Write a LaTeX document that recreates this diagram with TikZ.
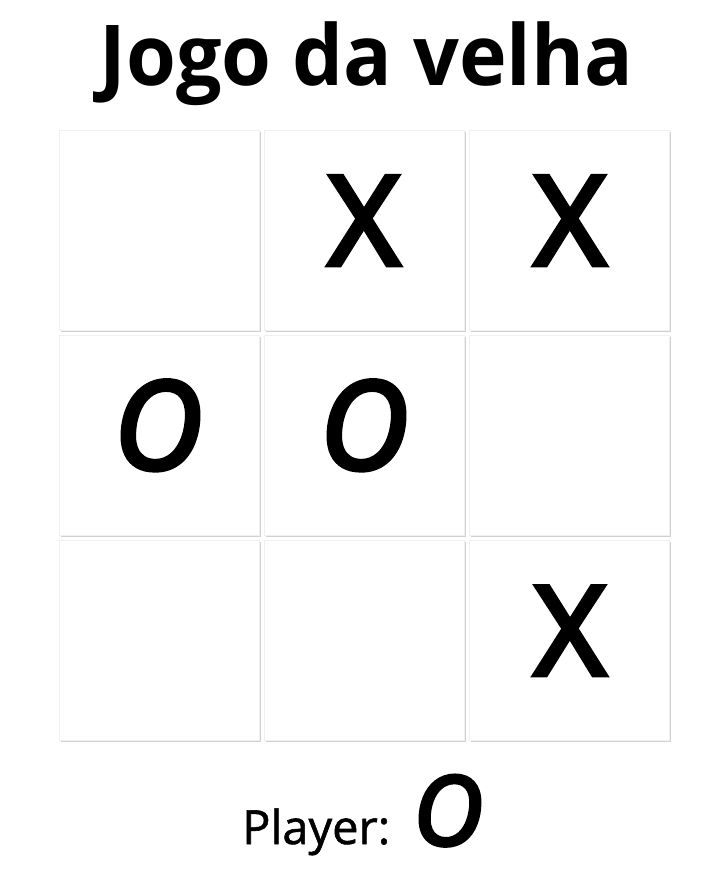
\documentclass[tikz,border=0pt]{standalone}
\usepackage{fontspec}
\setmainfont{Open Sans}
\newfontfamily\markfont[FakeBold=4]{Open Sans}
\newfontfamily\playerfont[FakeBold=1.2]{Open Sans}
\begin{document}
\begin{tikzpicture}[x=1pt,y=-1pt,
  cell/.style={fill=white,minimum width=200pt,minimum height=200pt,inner sep=0pt,draw=black!6,line width=0.6pt},
  xmark/.style={font=\markfont\fontsize{124}{124}\selectfont,inner sep=0pt,anchor=base},
  omark/.style={font=\markfont\itshape\fontsize{122}{122}\selectfont,inner sep=0pt,anchor=base}]
\useasboundingbox[fill=white] (0,0) rectangle (711,881);
\node[font=\bfseries\fontsize{84}{84}\selectfont,inner sep=0pt,anchor=base] (title) at (366.5,85) {\scalebox{0.96}[1]{Jogo da velha}};
\foreach \r/\y in {1/230,2/435,3/640}{
  \foreach \c/\x in {1/159,2/364,3/569}{
    \fill[black!18] (\x-98,\y-98) rectangle (\x+101.5,\y+101.5);
    \node[cell] (c\r\c) at (\x,\y) {};
  }
}
\node[xmark] (x12) at ([yshift=-35pt]c12) {X};
\node[xmark] (x13) at ([xshift=1pt,yshift=-35pt]c13) {X};
\node[xmark] (x33) at ([xshift=1pt,yshift=-35pt]c33) {X};
\node[omark] (o21) at ([xshift=-1pt,yshift=-34pt]c21) {O};
\node[omark] (o22) at ([yshift=-34pt]c22) {O};
\node[font=\playerfont\fontsize{47}{47}\selectfont,anchor=base west,inner sep=0pt] (pl) at (242,844) {Player:};
\node[font=\markfont\itshape\fontsize{96}{96}\selectfont,anchor=base,inner sep=0pt] (po) at (448,845) {O};
\end{tikzpicture}
\end{document}
